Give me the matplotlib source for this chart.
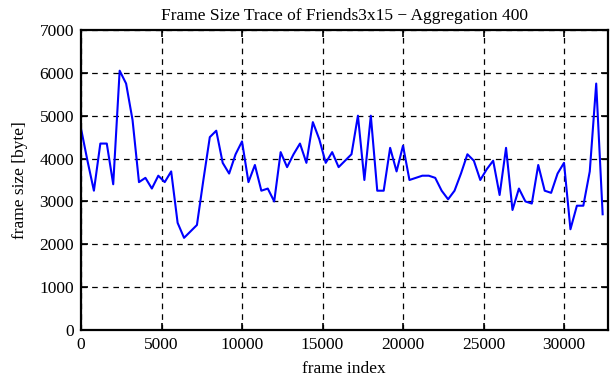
import numpy as np
import matplotlib
matplotlib.use("Agg")
import matplotlib.pyplot as plt

# frame size trace, one value every 400 frames
step = 400
sizes = [4700, 3950, 3250, 4350, 4350, 3400, 6050, 5750, 4900, 3450,
         3550, 3300, 3600, 3450, 3700, 2500, 2150, 2300, 2450, 3500,
         4500, 4650, 3900, 3650, 4100, 4400, 3450, 3850, 3250, 3300,
         3000, 4150, 3800, 4100, 4350, 3900, 4850, 4450, 3900, 4150,
         3800, 3950, 4100, 5000, 3500, 5000, 3250, 3250, 4250, 3700,
         4300, 3500, 3550, 3600, 3600, 3550, 3250, 3050, 3250, 3650,
         4100, 3950, 3500, 3750, 3950, 3150, 4250, 2800, 3300, 3000,
         2950, 3850, 3250, 3200, 3650, 3900, 2350, 2900, 2900, 3700,
         5750, 2700]
frames = np.arange(len(sizes)) * step
n_frames = 32714

xticks = [0, 5000, 10000, 15000, 20000, 25000, 30000]
yticks = [0, 1000, 2000, 3000, 4000, 5000, 6000, 7000]

plt.rcParams['font.family'] = ['Liberation Serif', 'DejaVu Serif']
fs = 12.5

fig = plt.figure(figsize=(6.11, 3.80), dpi=100)
ax = fig.add_axes([0.1326, 0.1316, 0.8620, 0.7895])

ax.plot(frames, sizes, color=(0, 0, 1), lw=1.5)

ax.set_xlim(0, n_frames)
ax.set_ylim(0, 7000)
ax.set_xticks(xticks)
ax.set_yticks(yticks)
ax.grid(True, color='black', linestyle=(0, (4.5, 4)), linewidth=0.9)
ax.tick_params(direction='in', top=True, right=True, length=5, width=1.2,
               labelsize=fs, pad=5)
for s in ax.spines.values():
    s.set_linewidth(1.6)

ax.set_title("Frame Size Trace of Friends3x15 \u2212 Aggregation 400",
             fontsize=fs, pad=7)
ax.set_xlabel("frame index", fontsize=fs, labelpad=6)
ax.set_ylabel("frame size [byte]", fontsize=fs, labelpad=8)

fig.savefig("out.png", dpi=100)
